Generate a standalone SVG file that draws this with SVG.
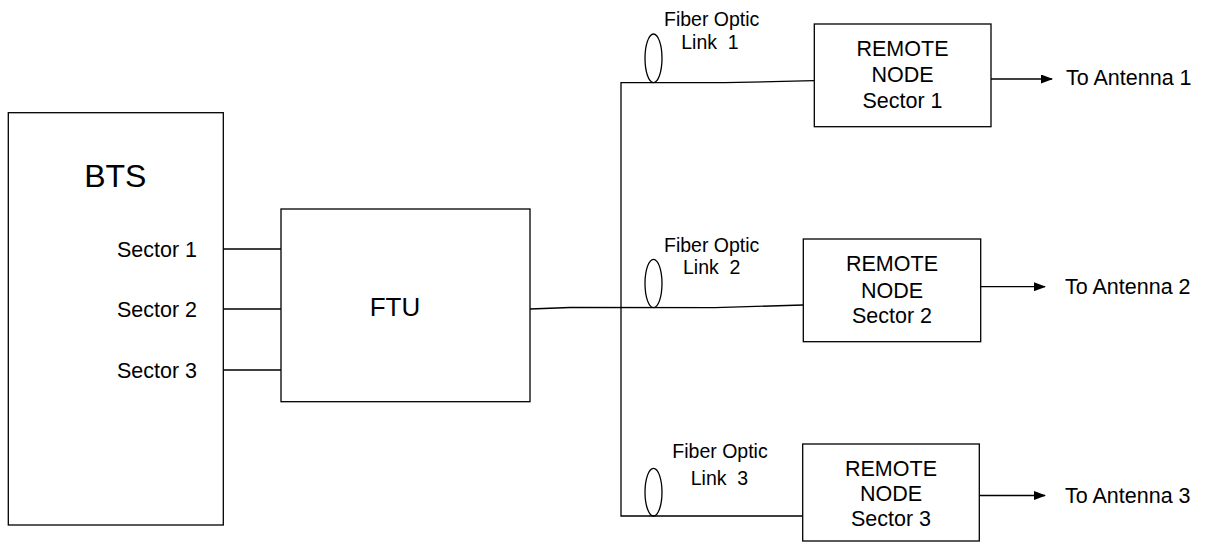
<svg xmlns="http://www.w3.org/2000/svg" width="1205" height="543" viewBox="0 0 1205 543">
<defs>
<style>
.box{fill:#fff;stroke:#000;stroke-width:1.3}
.ln{fill:none;stroke:#000;stroke-width:1.3}
text{font-family:"Liberation Sans",Arial,sans-serif;fill:#000}
.lbl{font-size:21.5px}
.fib{font-size:19.5px;text-anchor:middle;white-space:pre}
.rn{font-size:21.5px;text-anchor:middle}
</style>
<marker id="arr" markerWidth="12" markerHeight="9" refX="11" refY="4.5" orient="auto" markerUnits="userSpaceOnUse">
<path d="M0,0 L12,4.5 L0,9 Z" fill="#000"/>
</marker>
</defs>
<rect width="1205" height="543" fill="#fff"/>
<g id="connectors">
<path class="ln" d="M223,249 H281 M223,309 H281 M223,370 H281"/>
<path class="ln" d="M530,309 L570,307.5 L715,307.7 L803,305"/>
<path class="ln" d="M814,80.7 L725,82.7 L621,82.7 L621,516 L802.7,516"/>
<path class="ln" d="M991,79 H1052" marker-end="url(#arr)"/>
<path class="ln" d="M980.7,286.7 H1045" marker-end="url(#arr)"/>
<path class="ln" d="M979.3,495.5 H1045" marker-end="url(#arr)"/>
</g>
<g id="bts">
<rect class="box" x="8.3" y="112.7" width="215" height="412.3"/>
<text x="115.3" y="187.3" font-size="32" text-anchor="middle">BTS</text>
<text class="lbl" x="197" y="256.7" text-anchor="end">Sector 1</text>
<text class="lbl" x="197" y="316.7" text-anchor="end">Sector 2</text>
<text class="lbl" x="197" y="377.7" text-anchor="end">Sector 3</text>
</g>
<g id="ftu">
<rect class="box" x="281" y="209" width="249" height="192.7"/>
<text x="395" y="315.7" font-size="26" text-anchor="middle">FTU</text>
</g>
<g id="link1">
<ellipse class="ln" cx="653.5" cy="58.3" rx="8.5" ry="24.3"/>
<text class="fib" x="711.7" y="26">Fiber Optic</text>
<text class="fib" x="710" y="49.3" xml:space="preserve">Link  1</text>
</g>
<g id="link2">
<ellipse class="ln" cx="653.5" cy="283.5" rx="8.5" ry="24.2"/>
<text class="fib" x="711.7" y="251.7">Fiber Optic</text>
<text class="fib" x="711.7" y="274.3" xml:space="preserve">Link  2</text>
</g>
<g id="link3">
<ellipse class="ln" cx="653.5" cy="492.2" rx="8.5" ry="23.8"/>
<text class="fib" x="720" y="458.3">Fiber Optic</text>
<text class="fib" x="719.5" y="485" xml:space="preserve">Link  3</text>
</g>
<g id="remote1">
<rect class="box" x="814.3" y="24" width="176.7" height="102.7"/>
<text class="rn" x="902.5" y="56">REMOTE</text>
<text class="rn" x="902.5" y="82.3">NODE</text>
<text class="rn" x="902.5" y="107.7">Sector 1</text>
</g>
<g id="remote2">
<rect class="box" x="803.3" y="239" width="177.4" height="102.7"/>
<text class="rn" x="892" y="271">REMOTE</text>
<text class="rn" x="892" y="297.7">NODE</text>
<text class="rn" x="892" y="322.7">Sector 2</text>
</g>
<g id="remote3">
<rect class="box" x="802.7" y="444" width="176.6" height="97"/>
<text class="rn" x="891" y="476">REMOTE</text>
<text class="rn" x="891" y="501">NODE</text>
<text class="rn" x="891" y="526">Sector 3</text>
</g>
<g id="antennas">
<text class="lbl" x="1066" y="85">To Antenna 1</text>
<text class="lbl" x="1065" y="294.3">To Antenna 2</text>
<text class="lbl" x="1065" y="502.7">To Antenna 3</text>
</g>
</svg>
